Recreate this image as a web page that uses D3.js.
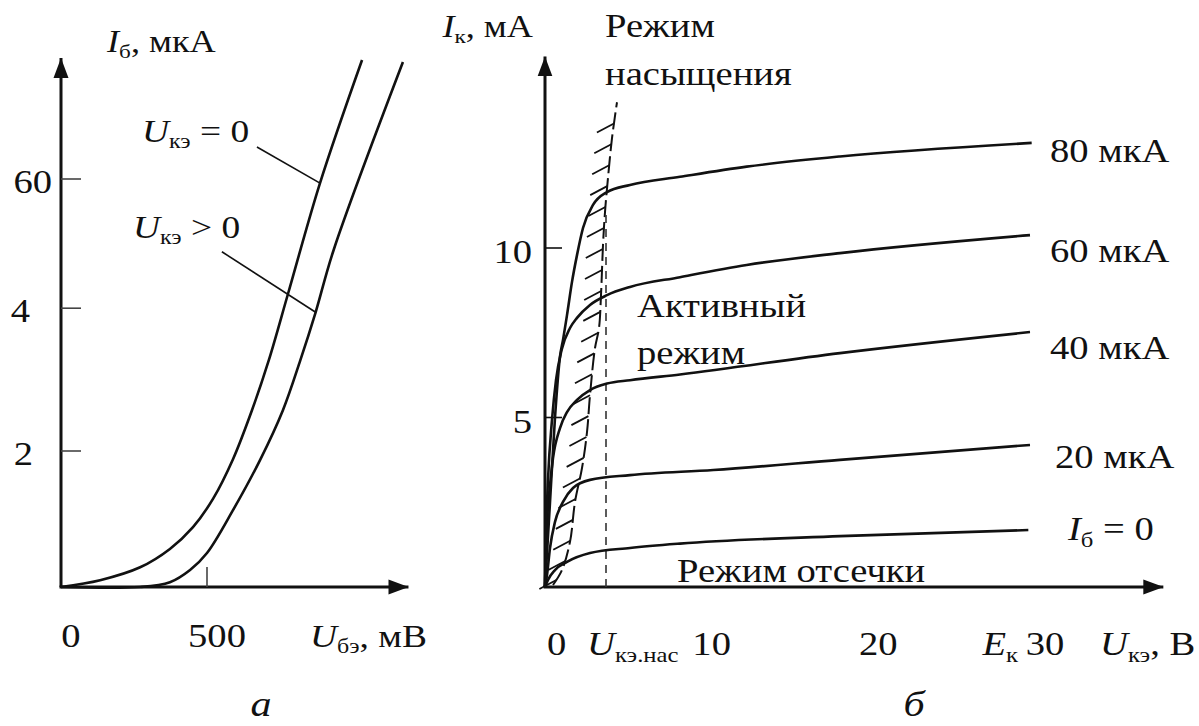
<!DOCTYPE html>
<html>
<head>
<meta charset="utf-8">
<script src="https://cdn.jsdelivr.net/npm/d3@7"></script>
<style>
  body { margin: 0; background: #fff; }
  svg { display: block; }
  text { font-family: 'Liberation Serif', 'DejaVu Serif', serif; fill: #111; }
</style>
</head>
<body>
<svg width="1199" height="726"></svg>
<script>
// ---- chart a: input characteristic I_b(U_be) ----
const curveUce0 = [[0, 0], [134, 0.10], [271, 0.29], [373, 0.56], [452, 0.88], [521, 1.3],
  [589, 1.88], [654, 2.6], [712, 3.34], [778, 4.32], [887, 5.94], [1031, 7.75]];
const curveUcePos = [[0, 0], [271, 0], [373, 0.07], [442, 0.25], [500, 0.5], [589, 1.13],
  [682, 1.87], [760, 2.60], [820, 3.34], [872, 4.04], [934, 4.96], [1171, 7.72]];
const leftYTicks = [2, 4.1, 6];
const leftYTickLabels = ['2', '4', '60'];
const leftXTicks = [0, 500];
const leftXTickLabels = ['0', '500'];

// ---- chart б: output characteristics I_k(U_ke) for I_b steps ----
const baseCurrents = ['I0', '20 мкА', '40 мкА', '60 мкА', '80 мкА'];
const ib0 = [[0, 0], [0.18, 0.21], [0.6, 0.5], [1.32, 0.74], [2.7, 1.0], [5.1, 1.15], [8.1, 1.28], [17.7, 1.5], [29, 1.68]];
const ib20 = [[0, 0], [0.12, 0.35], [0.3, 1.15], [0.6, 1.92], [1.08, 2.51], [1.68, 2.92], [2.7, 3.16],
  [5.1, 3.3], [10.1, 3.45], [17.7, 3.75], [29.1, 4.19]];
const ib40 = [[0, 0], [0.05, 1.0], [0.12, 1.9], [0.3, 3.0], [0.48, 3.8], [0.9, 4.69], [1.32, 5.16], [1.92, 5.52],
  [2.7, 5.81], [3.72, 6.0], [5.1, 6.1], [8.1, 6.27], [17.7, 6.9], [29.1, 7.52]];
const ib60 = [[0, 0], [0.06, 1.5], [0.18, 3.16], [0.42, 4.93], [0.66, 6.1], [1.0, 7.0], [1.5, 7.64], [1.92, 7.94],
  [2.7, 8.32], [3.72, 8.61], [5.1, 8.85], [8.1, 9.14], [12.1, 9.5], [17.7, 9.85], [29.1, 10.38]];
const ib80 = [[0, 0], [0.12, 1.0], [0.3, 2.5], [0.6, 5.0], [0.9, 6.8], [1.08, 7.29], [1.32, 8.02], [1.62, 9.0],
  [1.92, 9.79], [2.28, 10.59], [2.88, 11.27], [3.72, 11.65], [5.1, 11.86], [8.1, 12.1], [12.1, 12.4],
  [17.7, 12.7], [29.2, 13.1]];
const rightYTicks = [5, 10];
const rightXTicks = [0, 10, 20, 30];
const uSat = 3.66;
const satBoundary = [[0.48, 0.06], [1.02, 0.5], [1.5, 1.33], [1.8, 2.51], [2.22, 3.51], [2.52, 4.57], [2.7, 5.66],
  [3.0, 7.05], [3.24, 7.64], [3.36, 8.61], [3.48, 10.09], [3.6, 11.06], [3.78, 12.07], [4.02, 13.24], [4.32, 14.3]];

const svg = d3.select('svg');
const ink = '#111';
const FS = 33; // text size
const SX = 1.17; // the scanned lettering is a bit wider than the font

// arrow head
svg.append('defs').append('marker')
  .attr('id', 'arrow')
  .attr('markerUnits', 'userSpaceOnUse')
  .attr('viewBox', '0 -8 20 16')
  .attr('refX', 20).attr('refY', 0)
  .attr('markerWidth', 20).attr('markerHeight', 16)
  .attr('orient', 'auto')
  .append('path')
  .attr('d', 'M0,-7.5L20,0L0,7.5Z')
  .attr('fill', ink);

// rich text: parts like {t, it, sub}
function label(g, x, y, parts, size, anchor) {
  const t = g.append('text')
    .attr('transform', `translate(${x},${y}) scale(${SX},1)`)
    .attr('font-size', size)
    .attr('text-anchor', anchor || 'start');
  let shift = 0;
  parts.forEach((p) => {
    const target = p.sub ? size * 0.2 : 0;
    t.append('tspan')
      .attr('dy', target - shift)
      .attr('font-style', p.it ? 'italic' : null)
      .attr('font-size', p.sub ? size * 0.64 : null)
      .text(p.t);
    shift = target;
  });
  return t;
}

// ===== chart a =====
const xL = d3.scaleLinear().domain([0, 500]).range([61, 207]);
const yL = d3.scaleLinear().domain([0, 2]).range([587, 451]);
const gL = svg.append('g');

gL.append('line')
  .attr('x1', xL(0)).attr('y1', yL(0)).attr('x2', xL(0)).attr('y2', yL(7.78))
  .attr('stroke', ink).attr('stroke-width', 3).attr('marker-end', 'url(#arrow)');
gL.append('line')
  .attr('x1', xL(0) - 1.5).attr('y1', yL(0)).attr('x2', xL(1190)).attr('y2', yL(0))
  .attr('stroke', ink).attr('stroke-width', 3).attr('marker-end', 'url(#arrow)');

const leftLabelEnd = { 2: 33, 4.1: 30, 6: 52 };
leftYTicks.forEach((v, i) => {
  gL.append('line')
    .attr('x1', xL(0)).attr('x2', xL(0) + 20)
    .attr('y1', yL(v)).attr('y2', yL(v))
    .attr('stroke', '#444').attr('stroke-width', 1.6);
  label(gL, leftLabelEnd[v], yL(v) + 14, [{ t: leftYTickLabels[i] }], FS, 'end');
});
leftXTicks.forEach((v, i) => {
  if (v > 0) {
    gL.append('line')
      .attr('x1', xL(v)).attr('x2', xL(v))
      .attr('y1', yL(0)).attr('y2', yL(0) - 20)
      .attr('stroke', '#444').attr('stroke-width', 1.6);
  }
  label(gL, xL(v) + 10, 647, [{ t: leftXTickLabels[i] }], FS, 'middle');
});

const lineL = d3.line().x((d) => xL(d[0])).y((d) => yL(d[1])).curve(d3.curveCatmullRom.alpha(0.5));
[curveUce0, curveUcePos].forEach((c) => {
  gL.append('path').attr('d', lineL(c))
    .attr('fill', 'none').attr('stroke', ink).attr('stroke-width', 2.6);
});

// leader lines
gL.append('line')
  .attr('x1', xL(671)).attr('y1', yL(6.47)).attr('x2', xL(887)).attr('y2', yL(5.94))
  .attr('stroke', ink).attr('stroke-width', 1.6);
gL.append('line')
  .attr('x1', xL(551)).attr('y1', yL(4.93)).attr('x2', xL(872)).attr('y2', yL(4.04))
  .attr('stroke', ink).attr('stroke-width', 1.6);

label(gL, 107, 52, [{ t: 'I', it: true }, { t: 'б', sub: true }, { t: ', мкА' }], 31);
label(gL, 142, 142, [{ t: 'U', it: true }, { t: 'кэ', sub: true }, { t: ' = 0' }], 32);
label(gL, 133, 238, [{ t: 'U', it: true }, { t: 'кэ', sub: true }, { t: ' > 0' }], 32);
label(gL, 310, 647, [{ t: 'U', it: true }, { t: 'бэ', sub: true }, { t: ', мВ' }], 32);
label(gL, 261, 716, [{ t: 'а', it: true }], 36, 'middle');

// ===== chart б =====
const xR = d3.scaleLinear().domain([0, 30]).range([545, 1045]);
const yR = d3.scaleLinear().domain([0, 10]).range([587, 248]);
const gR = svg.append('g');

gR.append('line')
  .attr('x1', xR(0)).attr('y1', yR(0)).attr('x2', xR(0)).attr('y2', yR(15.65))
  .attr('stroke', ink).attr('stroke-width', 3).attr('marker-end', 'url(#arrow)');
gR.append('line')
  .attr('x1', xR(0) - 1.5).attr('y1', yR(0)).attr('x2', xR(37.1)).attr('y2', yR(0))
  .attr('stroke', ink).attr('stroke-width', 3).attr('marker-end', 'url(#arrow)');

rightYTicks.forEach((v) => {
  gR.append('line')
    .attr('x1', xR(0)).attr('x2', xR(0) + 17)
    .attr('y1', yR(v)).attr('y2', yR(v))
    .attr('stroke', ink).attr('stroke-width', 1.6);
  label(gR, xR(0) - 13, yR(v) + 15, [{ t: String(v) }], FS, 'end');
});
rightXTicks.forEach((v) => {
  if (v === 0) label(gR, xR(v) + 2, 655, [{ t: '0' }], FS, 'start');
  else label(gR, xR(v), 655, [{ t: String(v) }], FS, 'middle');
});

// saturation boundary (dashed, hatched) and U_ke.sat line
const lineB = d3.line().x((d) => xR(d[0])).y((d) => yR(d[1])).curve(d3.curveCatmullRom);
const boundary = gR.append('path').attr('d', lineB(satBoundary))
  .attr('fill', 'none').attr('stroke', ink).attr('stroke-width', 2)
  .attr('stroke-dasharray', '17,5');
const bNode = boundary.node();
const bLen = bNode.getTotalLength();
for (let s = 6; s < bLen - 2; s += 21) {
  const p = bNode.getPointAtLength(s);
  gR.append('line')
    .attr('x1', p.x).attr('y1', p.y).attr('x2', p.x - 17).attr('y2', p.y + 9)
    .attr('stroke', ink).attr('stroke-width', 1.8);
}
gR.append('line')
  .attr('x1', xR(uSat)).attr('x2', xR(uSat))
  .attr('y1', yR(0)).attr('y2', yR(11))
  .attr('stroke', '#333').attr('stroke-width', 1.6).attr('stroke-dasharray', '8,6');

const lineR = d3.line().x((d) => xR(d[0])).y((d) => yR(d[1])).curve(d3.curveMonotoneX);
const curvesR = [ib0, ib20, ib40, ib60, ib80];
curvesR.forEach((c) => {
  gR.append('path').attr('d', lineR(c))
    .attr('fill', 'none').attr('stroke', ink).attr('stroke-width', 2.6);
});

// curve labels at right ends
const endLabelY = [540, 468, 359, 262, 162];
curvesR.forEach((c, i) => {
  if (i === 0) {
    label(gR, 1068, endLabelY[i], [{ t: 'I', it: true }, { t: 'б', sub: true }, { t: ' = 0' }], FS);
  } else {
    label(gR, i === 1 ? 1055 : 1050, endLabelY[i], [{ t: baseCurrents[i] }], FS);
  }
});

label(gR, 533, 37, [{ t: 'I', it: true }, { t: 'к', sub: true }, { t: ', мА' }], 31, 'end');
label(gR, 605, 37, [{ t: 'Режим' }], FS);
label(gR, 605, 85, [{ t: 'насыщения' }], FS);
label(gR, 637, 317, [{ t: 'Активный' }], FS);
label(gR, 637, 364, [{ t: 'режим' }], FS);
label(gR, 677, 582, [{ t: 'Режим отсечки' }], FS);
label(gR, 587, 655, [{ t: 'U', it: true }, { t: 'кэ.нас', sub: true }], FS);
label(gR, 1018, 655, [{ t: 'E', it: true }, { t: 'к', sub: true }], FS, 'end');
label(gR, 1100, 655, [{ t: 'U', it: true }, { t: 'кэ', sub: true }, { t: ', В' }], FS);
label(gR, 914, 716, [{ t: 'б', it: true }], 36, 'middle');
</script>
</body>
</html>
